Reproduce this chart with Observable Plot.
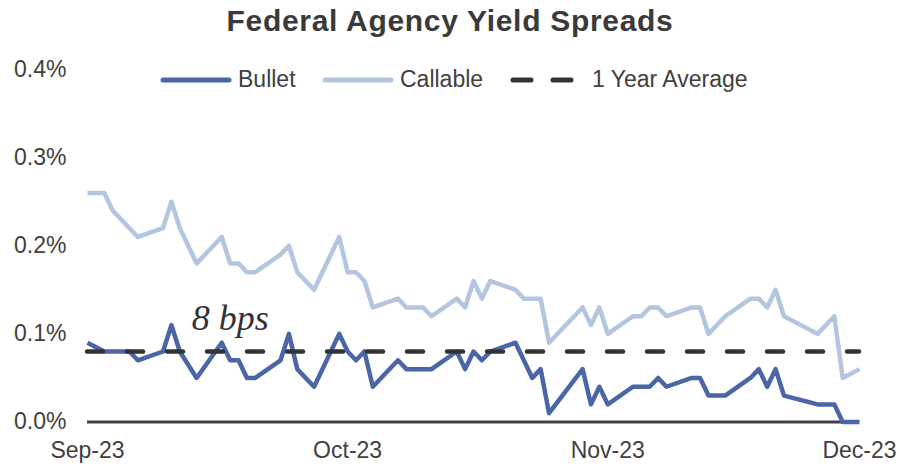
<!DOCTYPE html>
<html>
<head>
<meta charset="utf-8">
<script src="https://cdn.jsdelivr.net/npm/d3@7"></script>
<script src="https://cdn.jsdelivr.net/npm/@observablehq/plot@0.6"></script>
<style>
  html, body { margin: 0; padding: 0; background: #fff; }
  #wrap { position: relative; width: 900px; height: 466px; overflow: hidden; font-family: "Liberation Sans", Arial, sans-serif; }
  #title { height: 44px; box-sizing: border-box; padding-top: 6px; line-height: 30px; font-size: 30px; font-weight: bold; letter-spacing: 0.7px; text-align: center; color: #3a3a3a; }
  .lg { position: absolute; font-size: 23px; line-height: 23px; color: #404040; white-space: nowrap; }
  .sw { position: absolute; }
</style>
</head>
<body>
<div id="wrap">
  <div id="title">Federal Agency Yield Spreads</div>
  <div id="chart"></div>
  <div id="legend"></div>
</div>
<script>
// ---- data ----
const dates = [
  "2023-08-31","2023-09-02","2023-09-03","2023-09-05","2023-09-06","2023-09-09","2023-09-10","2023-09-11","2023-09-13","2023-09-16",
  "2023-09-17","2023-09-18","2023-09-19","2023-09-20","2023-09-23","2023-09-24","2023-09-25","2023-09-27","2023-09-30","2023-10-01",
  "2023-10-02","2023-10-03","2023-10-04","2023-10-07","2023-10-08","2023-10-10","2023-10-11","2023-10-14","2023-10-15","2023-10-16",
  "2023-10-17","2023-10-18","2023-10-21","2023-10-22","2023-10-23","2023-10-24","2023-10-25","2023-10-29","2023-10-30","2023-10-31",
  "2023-11-01","2023-11-04","2023-11-05","2023-11-06","2023-11-07","2023-11-08","2023-11-11","2023-11-12","2023-11-13","2023-11-15",
  "2023-11-18","2023-11-19","2023-11-20","2023-11-21","2023-11-22","2023-11-26","2023-11-28","2023-11-29","2023-12-01"
];
const bulletValues = [
  0.09,0.08,0.08,0.08,0.07,0.08,0.11,0.08,0.05,0.09,
  0.07,0.07,0.05,0.05,0.07,0.10,0.06,0.04,0.10,0.08,
  0.07,0.08,0.04,0.07,0.06,0.06,0.06,0.08,0.06,0.08,
  0.07,0.08,0.09,0.07,0.05,0.06,0.01,0.06,0.02,0.04,
  0.02,0.04,0.04,0.04,0.05,0.04,0.05,0.05,0.03,0.03,
  0.05,0.06,0.04,0.06,0.03,0.02,0.02,0.00,0.00
];
const callableValues = [
  0.26,0.26,0.24,0.22,0.21,0.22,0.25,0.22,0.18,0.21,
  0.18,0.18,0.17,0.17,0.19,0.20,0.17,0.15,0.21,0.17,
  0.17,0.16,0.13,0.14,0.13,0.13,0.12,0.14,0.13,0.16,
  0.14,0.16,0.15,0.14,0.14,0.14,0.09,0.13,0.11,0.13,
  0.10,0.12,0.12,0.13,0.13,0.12,0.13,0.13,0.10,0.12,
  0.14,0.14,0.13,0.15,0.12,0.10,0.12,0.05,0.06
];
const averageValue = 0.08;
const averageLabel = "8 bps";
const averageLabelDate = "2023-09-17";
const yTicks = [0, 0.1, 0.2, 0.3, 0.4];
const xTickDates = ["2023-08-31","2023-10-01","2023-11-01","2023-12-01"];
const xTickLabels = ["Sep-23","Oct-23","Nov-23","Dec-23"];
const seriesNames = ["Bullet","Callable","1 Year Average"];

// ---- build ----
const parse = d3.utcParse("%Y-%m-%d");
const data = dates.map((d, i) => ({date: parse(d), bullet: bulletValues[i], callable: callableValues[i]}));
const tickDates = xTickDates.map(parse);
const tickLabelMap = new Map(tickDates.map((d, i) => [+d, xTickLabels[i]]));

const colBullet = "#4A66A6", colCallable = "#B4C5E0", colAvg = "#333333", colText = "#404040";

const chart = Plot.plot({
  width: 900,
  height: 422,
  marginTop: 25,
  marginBottom: 44.5,
  marginLeft: 87,
  marginRight: 41,
  style: {fontFamily: "'Liberation Sans', Arial, sans-serif", fontSize: "23px", color: colText, overflow: "visible", background: "#fff"},
  x: {type: "utc", domain: [parse(dates[0]), parse(dates[dates.length - 1])]},
  y: {domain: [0, 0.4]},
  marks: [
    Plot.axisY({ticks: yTicks, tickFormat: d => d.toFixed(1) + "%", tickSize: 0, tickPadding: 21, label: null, fontSize: 23, fill: colText}),
    Plot.axisX({ticks: tickDates, tickFormat: d => tickLabelMap.get(+d), tickSize: 0, tickPadding: 20, label: null, fontSize: 23, fill: colText}),
    Plot.ruleY([0], {stroke: colText, strokeWidth: 3}),
    Plot.line(data, {x: "date", y: "callable", stroke: colCallable, strokeWidth: 4.5, strokeLinejoin: "round", strokeLinecap: "butt"}),
    Plot.line(data, {x: "date", y: "bullet", stroke: colBullet, strokeWidth: 4.5, strokeLinejoin: "round", strokeLinecap: "butt"}),
    Plot.ruleY([averageValue], {stroke: colAvg, strokeWidth: 4.5, strokeDasharray: "16,24", strokeLinecap: "round"}),
    Plot.text([{date: parse(averageLabelDate), value: averageValue, label: averageLabel}], {
      x: "date", y: "value", text: "label", dy: -33.5,
      fontFamily: "'Liberation Serif', 'Times New Roman', serif", fontStyle: "italic", fontSize: 36, fill: "#333"
    })
  ]
});
document.getElementById("chart").appendChild(chart);

// ---- legend (HTML, above the plot area) ----
const legend = document.getElementById("legend");
const legendItems = [
  {name: seriesNames[0], swatchLeft: 160, textLeft: 238, color: colBullet, dashed: false},
  {name: seriesNames[1], swatchLeft: 322, textLeft: 400, color: colCallable, dashed: false},
  {name: seriesNames[2], swatchLeft: 510, textLeft: 592, color: colAvg, dashed: true}
];
for (const it of legendItems) {
  const ns = "http://www.w3.org/2000/svg";
  const sv = document.createElementNS(ns, "svg");
  sv.setAttribute("width", 72); sv.setAttribute("height", 10);
  sv.setAttribute("class", "sw");
  sv.style.left = it.swatchLeft + "px"; sv.style.top = "74.5px";
  const ln = document.createElementNS(ns, "line");
  ln.setAttribute("x1", 3); ln.setAttribute("x2", 69); ln.setAttribute("y1", 5); ln.setAttribute("y2", 5);
  ln.setAttribute("stroke", it.color); ln.setAttribute("stroke-width", 5); ln.setAttribute("stroke-linecap", "round");
  if (it.dashed) ln.setAttribute("stroke-dasharray", "18,22");
  sv.appendChild(ln);
  legend.appendChild(sv);
  const tx = document.createElement("div");
  tx.className = "lg";
  tx.textContent = it.name;
  tx.style.left = it.textLeft + "px"; tx.style.top = "68px";
  legend.appendChild(tx);
}
</script>
</body>
</html>
